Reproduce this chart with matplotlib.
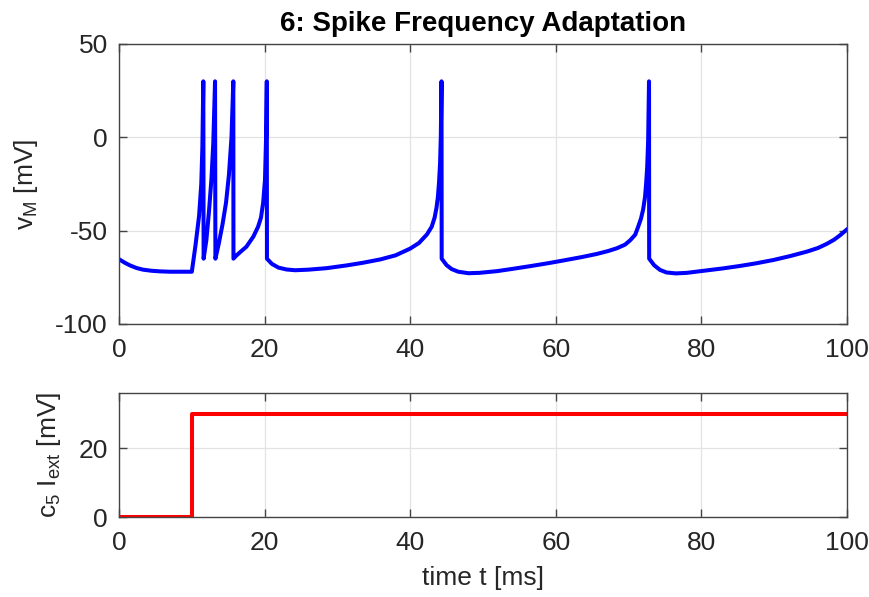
import matplotlib
matplotlib.use("Agg")
import matplotlib.pyplot as plt

# membrane potential (t in ms, v in mV)
t_ms = [0.0, 0.8, 1.5, 2.4, 3.3, 4.5, 5.6, 7.0, 8.5, 10.0,
        10.5, 11.0, 11.3, 11.45, 11.58,
        11.62, 12.0, 12.35, 12.7, 12.95, 13.19,
        13.24, 13.7, 14.2, 14.7, 15.1, 15.45, 15.7,
        15.72, 16.1, 16.7, 17.5, 18.45, 19.1, 19.5, 19.8, 20.05, 20.2, 20.3,
        20.32, 21.0, 21.9, 23.0, 24.2, 26.0, 28.5, 31.3, 33.5, 35.9, 38.0,
        40.0, 41.2, 42.3, 42.95, 43.35, 43.6, 43.8, 43.96, 44.1, 44.2, 44.3,
        44.32, 45.0, 45.7, 46.6, 48.0, 49.5, 51.9, 54.0, 56.5, 59.0, 61.0,
        63.5, 65.6, 67.2, 68.4, 69.5, 70.2, 70.9, 71.3, 71.7, 72.0, 72.25,
        72.4, 72.55, 72.68, 72.8,
        72.82, 73.5, 74.3, 75.2, 76.5, 78.0, 80.7, 83.0, 85.3, 87.5, 89.9,
        92.2, 94.5, 96.0, 97.2, 98.2, 99.0, 100.0]
v_mV = [-65.3, -67.2, -68.6, -70.0, -70.9, -71.5, -71.8, -72.0, -72.0, -72.0,
        -58.0, -42.0, -25.0, -5.0, 30.0,
        -65.0, -55.0, -40.0, -22.0, -3.0, 30.0,
        -65.0, -57.0, -47.0, -35.0, -20.0, 0.0, 30.0,
        -65.0, -63.4, -61.3, -58.6, -53.2, -47.9, -43.0, -35.0, -22.8, 0.0, 30.0,
        -65.0, -67.8, -69.8, -70.8, -71.2, -70.9, -70.1, -68.6, -67.2, -65.4, -63.2,
        -59.6, -56.6, -52.0, -47.9, -43.0, -38.0, -32.0, -24.0, -14.0, 0.0, 30.0,
        -65.0, -68.5, -70.6, -72.0, -72.8, -72.6, -71.7, -70.5, -69.0, -67.4, -66.0,
        -64.2, -62.5, -60.9, -59.4, -57.5, -55.2, -52.2, -48.0, -43.5, -38.5, -32.0,
        -25.0, -16.0, -2.0, 30.0,
        -65.0, -68.5, -71.0, -72.4, -72.9, -72.6, -71.3, -70.2, -68.9, -67.5, -65.7,
        -63.6, -61.2, -59.3, -57.1, -54.9, -52.6, -49.3]

# scaled input current (step at 10 ms)
t_in = [0.0, 10.0, 10.0, 100.0]
i_in = [0.0, 0.0, 30.0, 30.0]

plt.rcParams['font.family'] = ['Liberation Sans', 'DejaVu Sans']
plt.rcParams['axes.unicode_minus'] = False
plt.rcParams['mathtext.fontset'] = 'custom'
plt.rcParams['mathtext.rm'] = 'Liberation Sans'
plt.rcParams['mathtext.it'] = 'Liberation Sans'

fs = 19
dark = '#262626'
edge = '#444444'

fig = plt.figure(figsize=(8.7, 5.97), dpi=100)
ax1 = fig.add_axes([0.1368, 0.4573, 0.8368, 0.4690])
ax2 = fig.add_axes([0.1368, 0.1340, 0.8368, 0.2077])

ax1.plot(t_ms, v_mV, color='#0000ff', lw=2.9, solid_joinstyle='round')
ax2.plot(t_in, i_in, color='#ff0000', lw=2.9)

ax1.set_xlim(0, 100)
ax1.set_ylim(-100, 50)
ax1.set_yticks([-100, -50, 0, 50])
ax2.set_xlim(0, 100)
ax2.set_ylim(0, 36)
ax2.set_yticks([0, 20])

for ax in (ax1, ax2):
    ax.set_xticks([0, 20, 40, 60, 80, 100])
    ax.grid(True, color='#e3e3e3', lw=0.9)
    ax.set_axisbelow(True)
    ax.tick_params(direction='in', length=6, width=1.0, color=edge,
                   labelsize=fs, labelcolor=dark, top=True, right=True)
    ax.tick_params(axis='x', pad=10)
    ax.tick_params(axis='y', pad=8)
    for s in ax.spines.values():
        s.set_color(edge)
        s.set_linewidth(1.0)

ax1.set_title('6: Spike Frequency Adaptation', fontsize=20, fontweight='bold',
              color='black', pad=9)
ax1.set_ylabel('v$_{\\mathrm{M}}$ [mV]', fontsize=fs, color=dark, labelpad=11)
ax2.set_ylabel('c$_5$ I$_{\\mathrm{ext}}$ [mV]', fontsize=fs, color=dark, labelpad=11)
ax2.set_xlabel('time t [ms]', fontsize=fs, color=dark, labelpad=8)

fig.savefig('out.png', dpi=100)
